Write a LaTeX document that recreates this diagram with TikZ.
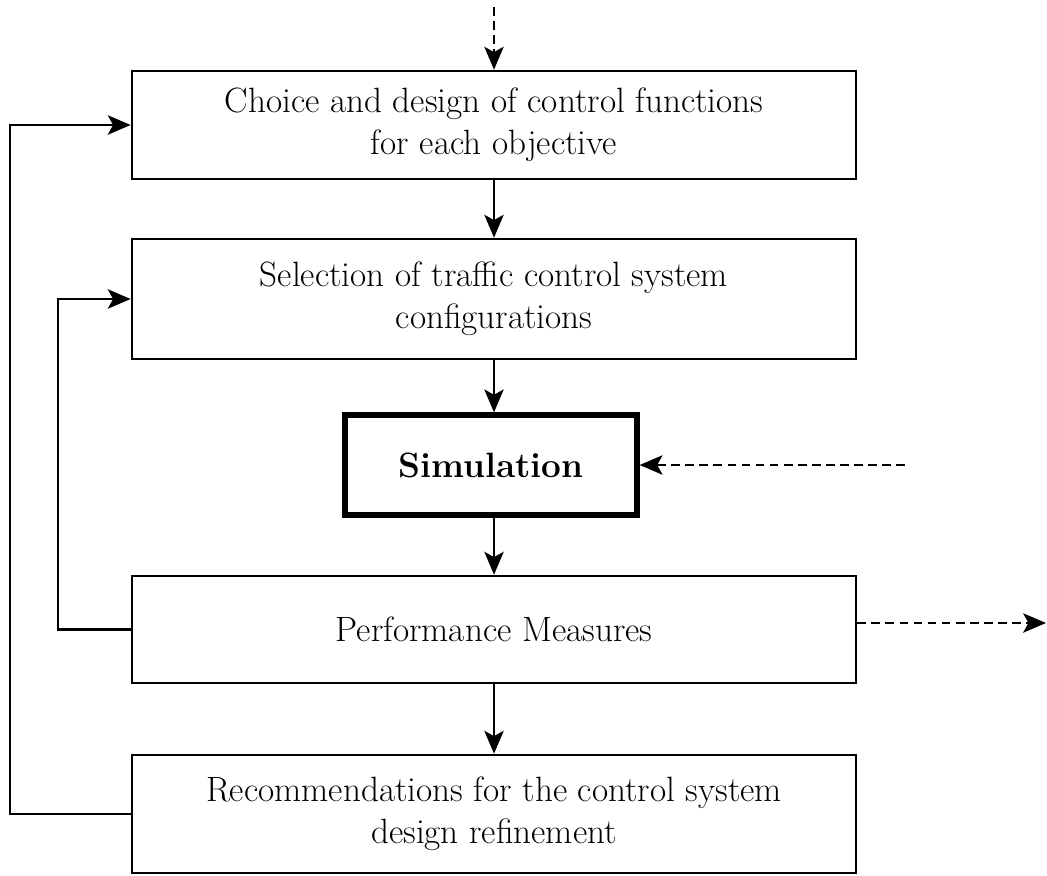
\documentclass[tikz,border=0pt]{standalone}
\usepackage{tikz}
\usetikzlibrary{arrows.meta}
\newcommand\feedback[3]{\draw[link] (#1.west) -- ++(-#3,0) |- (#2.west);}

\begin{document}
\begin{tikzpicture}
\tikzstyle{stage}=[draw,line width=1.5pt,minimum width=14.48cm,align=center,font=\fontsize{20}{24}\selectfont]
\tikzstyle{link}=[line width=1.3pt,-{Stealth[length=13pt,width=11pt,inset=3pt]}]
\tikzstyle{hint}=[link,dash pattern=on 5pt off 3pt]
\useasboundingbox (0,0) rectangle (20.94,-17.5);
\node[stage,minimum height=2.16cm] (choice) at (9.88,-2.5) {Choice and design of control functions\\for each objective};
\node[stage,minimum height=2.4cm] (select) at (9.88,-5.98) {Selection of traffic control system\\configurations};
\node[stage,line width=3pt,minimum width=5.84cm,minimum height=2cm] (sim) at (9.82,-9.3) {\textbf{Simulation}};
\node[stage,minimum height=2.14cm] (perf) at (9.88,-12.59) {Performance Measures};
\node[stage,minimum height=2.36cm] (recom) at (9.88,-16.28) {Recommendations for the control system\\design refinement};
\coordinate (input) at (9.88,-0.14);
\coordinate (data) at (18.1,-9.3);
\coordinate (output) at (20.92,-12.46);
% main chain
\draw[hint] (input) -- (choice);
\draw[link] (choice) -- (select);
\draw[link] (select.south) -- (select.south |- sim.north);
\draw[link] (sim.south -| perf.north) -- (perf.north);
\draw[link] (perf) -- (recom);
\draw[hint] (data) -- (sim);
\draw[hint] (perf.east |- output) -- (output);
% loops back
\feedback{perf}{select}{1.46}
\feedback{recom}{choice}{2.42}
\end{tikzpicture}
\end{document}
